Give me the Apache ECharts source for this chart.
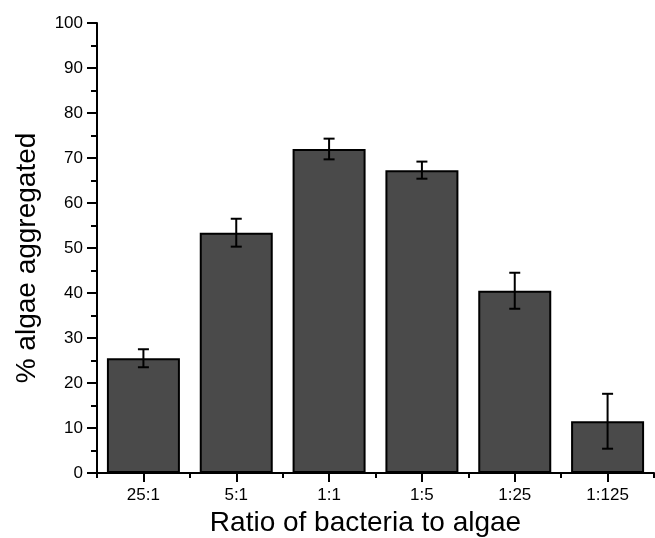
<!DOCTYPE html>
<html>
<head>
<meta charset="utf-8">
<script src="https://cdn.jsdelivr.net/npm/echarts@6/dist/echarts.min.js"></script>
<style>
html,body{margin:0;padding:0;background:#fff;}
#chart{width:655px;height:538px;}
</style>
</head>
<body>
<div id="chart"></div>
<script>
const categories = ['25:1', '5:1', '1:1', '1:5', '1:25', '1:125'];
const values = [25.5, 53.4, 72.0, 67.3, 40.5, 11.5];
const errors = [2.0, 3.1, 2.3, 1.9, 4.0, 6.1];
const yTicks = [0, 10, 20, 30, 40, 50, 60, 70, 80, 90, 100];

const errorData = values.map((v, i) => [i, v - errors[i], v + errors[i]]);
const font = 'Liberation Sans, Arial, sans-serif';

const chart = echarts.init(document.getElementById('chart'), null, {renderer: 'canvas'});
chart.setOption({
  animation: false,
  backgroundColor: '#ffffff',
  grid: {left: 97, right: 1, top: 23, bottom: 65, containLabel: false, outerBoundsMode: 'none'},
  xAxis: [
    {
      type: 'category',
      data: categories,
      position: 'bottom',
      axisLine: {show: true, lineStyle: {color: '#000', width: 2}},
      axisTick: {show: true, length: 5, lineStyle: {color: '#000', width: 2}},
      axisLabel: {show: false},
      splitLine: {show: false},
      name: 'Ratio of bacteria to algae',
      nameLocation: 'middle',
      nameGap: 36,
      nameTextStyle: {fontFamily: font, fontSize: 28, color: '#000', padding: [0, 20, 0, 0]}
    },
    {
      type: 'category',
      data: categories,
      position: 'bottom',
      axisLine: {show: false},
      axisTick: {show: true, alignWithLabel: true, length: 9, lineStyle: {color: '#000', width: 2}},
      axisLabel: {show: true, fontFamily: font, fontSize: 17, color: '#000', margin: 14},
      splitLine: {show: false}
    }
  ],
  yAxis: {
    type: 'value',
    min: 0,
    max: 100,
    interval: 10,
    axisLine: {show: true, lineStyle: {color: '#000', width: 2}},
    axisTick: {show: true, length: 10, lineStyle: {color: '#000', width: 2}},
    minorTick: {show: true, splitNumber: 2, length: 6, lineStyle: {color: '#000', width: 2}},
    axisLabel: {
      fontFamily: font, fontSize: 17, color: '#000', margin: 14,
      formatter: v => (yTicks.indexOf(v) >= 0 ? String(v) : '')
    },
    splitLine: {show: false},
    name: '% algae aggregated',
    nameLocation: 'middle',
    nameGap: 56,
    nameTextStyle: {fontFamily: font, fontSize: 28, color: '#000', padding: [0, 0, 0, -20]}
  },
  series: [
    {
      type: 'bar',
      xAxisIndex: 0,
      data: values,
      barWidth: 73,
      itemStyle: {color: '#4a4a4a', borderColor: '#000', borderWidth: 2},
      z: 2
    },
    {
      type: 'custom',
      xAxisIndex: 0,
      data: errorData,
      z: 5,
      renderItem: function (params, api) {
        const x = api.value(0);
        const lo = api.coord([x, api.value(1)]);
        const hi = api.coord([x, api.value(2)]);
        const half = 5.5;
        const style = {stroke: '#000', lineWidth: 2};
        return {
          type: 'group',
          children: [
            {type: 'line', shape: {x1: lo[0], y1: lo[1], x2: hi[0], y2: hi[1]}, style: style},
            {type: 'line', shape: {x1: hi[0] - half, y1: hi[1], x2: hi[0] + half, y2: hi[1]}, style: style},
            {type: 'line', shape: {x1: lo[0] - half, y1: lo[1], x2: lo[0] + half, y2: lo[1]}, style: style}
          ]
        };
      }
    }
  ]
});
</script>
</body>
</html>
